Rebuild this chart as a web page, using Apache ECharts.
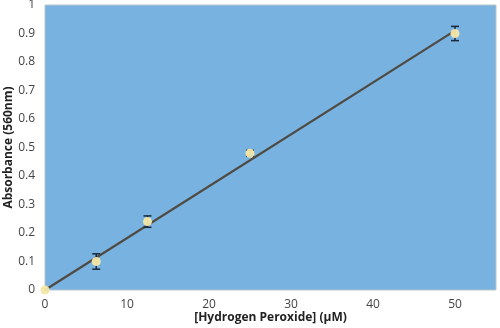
<!DOCTYPE html>
<html><head><meta charset="utf-8">
<script src="https://cdn.jsdelivr.net/npm/echarts@6/dist/echarts.min.js"></script>
<style>html,body{margin:0;padding:0;background:#fff}#c{width:500px;height:328px}</style>
</head><body><div id="c"></div>
<script>
var concentration = [0, 6.25, 12.5, 25, 50];
var absorbance = [0, 0.1, 0.24, 0.48, 0.9];
var errors = [0, 0.027, 0.02, 0.01, 0.025];
var trendX = [0, 50];
var trendY = [0, 0.91];
var xTicks = [0, 10, 20, 30, 40, 50];
var yTicks = [0, 0.1, 0.2, 0.3, 0.4, 0.5, 0.6, 0.7, 0.8, 0.9, 1];

var pts = concentration.map(function(x,i){return [x, absorbance[i]];});
var errData = concentration.map(function(x,i){return [x, absorbance[i]-errors[i], absorbance[i]+errors[i]];});
var trend = trendX.map(function(x,i){return [x, trendY[i]];});

var chart = echarts.init(document.getElementById('c'));
var font = '"Open Sans", sans-serif';
chart.setOption({
  animation:false,
  grid:{left:45, top:5, right:4, bottom:38, containLabel:false, outerBoundsMode:'none',
    show:true, backgroundColor:'#78b2e0', borderColor:'#b8c4cc', borderWidth:1},
  xAxis:{type:'value', min:0, max:55, interval:10,
    name:'[Hydrogen Peroxide] (\u00b5M)', nameLocation:'middle', nameGap:22, nameMoveOverlap:false,
    nameTextStyle:{fontFamily:font, fontWeight:'bold', fontSize:12, color:'#222'},
    axisLine:{show:false}, axisTick:{show:false}, splitLine:{show:false},
    axisLabel:{fontFamily:font, fontSize:12, color:'#444', margin:9,
      formatter:function(v){return xTicks.indexOf(v)>=0 ? String(v) : '';}}},
  yAxis:{type:'value', min:0, max:1, interval:0.1,
    name:'Absorbance (560nm)', nameLocation:'middle', nameGap:30, nameMoveOverlap:false,
    nameTextStyle:{fontFamily:font, fontWeight:'bold', fontSize:12, color:'#222'},
    axisLine:{show:false}, axisTick:{show:false}, splitLine:{show:false},
    axisLabel:{fontFamily:font, fontSize:12, color:'#444', margin:10,
      formatter:function(v){var r=Math.round(v*10)/10; return yTicks.indexOf(r)>=0 ? String(r) : '';}}},
  series:[
    {type:'line', data:trend, symbol:'none', lineStyle:{color:'#4f4a42', width:2.2}, z:2},
    {type:'custom', data:errData, z:3,
      renderItem:function(params, api){
        var x = api.value(0);
        var lo = api.coord([x, api.value(1)]);
        var hi = api.coord([x, api.value(2)]);
        if (Math.abs(lo[1]-hi[1]) < 1) return null;
        var w = 4;
        var st = {stroke:'#1a2a3a', lineWidth:1.5};
        return {type:'group', children:[
          {type:'line', shape:{x1:lo[0], y1:lo[1], x2:hi[0], y2:hi[1]}, style:st},
          {type:'line', shape:{x1:lo[0]-w, y1:lo[1], x2:lo[0]+w, y2:lo[1]}, style:st},
          {type:'line', shape:{x1:hi[0]-w, y1:hi[1], x2:hi[0]+w, y2:hi[1]}, style:st}
        ]};
      }},
    {type:'scatter', data:pts, symbol:'circle', symbolSize:9, z:4,
      itemStyle:{color:'#f6e7a6', opacity:0.95}}
  ]
});
</script></body></html>
